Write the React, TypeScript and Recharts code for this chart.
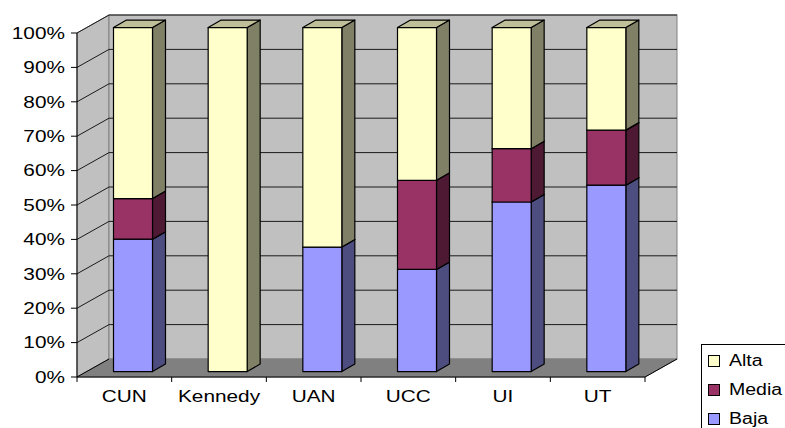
import React from "react";
import { BarChart, Bar, XAxis, YAxis, ReferenceArea } from "recharts";

// universidades y porcentajes por nivel
const categories = ["CUN", "Kennedy", "UAN", "UCC", "UI", "UT"];
const baja = [38.5, 0, 36.2, 29.7, 49.3, 54.2];
const media = [11.8, 0, 0, 25.9, 15.5, 16.0];
const alta = [49.7, 100, 63.8, 44.4, 35.2, 29.8];
const yTicks = [0, 10, 20, 30, 40, 50, 60, 70, 80, 90, 100];

const data = categories.map((name, i) => ({
  name,
  Baja: baja[i],
  Media: media[i],
  Alta: alta[i],
}));

const FONT = "'Liberation Sans', Arial, sans-serif";
const STRETCH = 1.3;
// profundidad del "3D"
const WALL_DX = 32;
const WALL_DY = 18;
const BAR_DX = 8.5;
const BAR_DY = 5.4;
const DEPTH_X = 13;
const DEPTH_Y = 7.5;

const makeShape = (front: string, side: string, top: string) => (props: any) => {
  const { x, y, width, height } = props;
  if (!height || height <= 0) return <g />;
  const fx = x + BAR_DX;
  const fy = y - BAR_DY;
  const r = fx + width;
  const b = fy + height;
  return (
    <g stroke="#000" strokeWidth={1.2} strokeLinejoin="round">
      <polygon
        points={`${r},${b} ${r},${fy} ${r + DEPTH_X},${fy - DEPTH_Y} ${r + DEPTH_X},${b - DEPTH_Y}`}
        fill={side}
      />
      <polygon
        points={`${fx},${fy} ${r},${fy} ${r + DEPTH_X},${fy - DEPTH_Y} ${fx + DEPTH_X},${fy - DEPTH_Y}`}
        fill={top}
      />
      <rect x={fx} y={fy} width={width} height={height} fill={front} />
    </g>
  );
};

const Walls = (props: any) => {
  const { x, y, width: w, height: h } = props;
  const n = categories.length;
  return (
    <g>
      <polygon
        points={`${x},${y + h} ${x},${y} ${x + WALL_DX},${y - WALL_DY} ${x + WALL_DX},${y + h - WALL_DY}`}
        fill="#C0C0C0"
        stroke="#808080"
      />
      <rect x={x + WALL_DX} y={y - WALL_DY} width={w} height={h} fill="#C0C0C0" stroke="#808080" />
      <polygon
        points={`${x},${y + h} ${x + w},${y + h} ${x + w + WALL_DX},${y + h - WALL_DY} ${x + WALL_DX},${y + h - WALL_DY}`}
        fill="#808080"
        stroke="#808080"
      />
      {yTicks.slice(1).map((t) => {
        const yy = y + h * (1 - t / 100);
        return (
          <polyline
            key={t}
            points={`${x},${yy} ${x + WALL_DX},${yy - WALL_DY} ${x + w + WALL_DX},${yy - WALL_DY}`}
            fill="none"
            stroke="#1a1a1a"
            strokeWidth={1}
          />
        );
      })}
      <line x1={x} y1={y + h} x2={x + WALL_DX} y2={y + h - WALL_DY} stroke="#000" />
      <line x1={x + w} y1={y + h} x2={x + w + WALL_DX} y2={y + h - WALL_DY} stroke="#000" />
      {Array.from({ length: n + 1 }, (_, i) => (
        <line key={i} x1={x + (i * w) / n} y1={y + h} x2={x + (i * w) / n} y2={y + h + 5} stroke="#000" />
      ))}
    </g>
  );
};

const YTick = (props: any) => {
  const { x, y, payload } = props;
  return (
    <g transform={`translate(${x},${y}) scale(${STRETCH},1)`}>
      <text x={0} y={0} dy="0.36em" textAnchor="end" fontSize={16} fontFamily={FONT} fill="#000">
        {payload.value}%
      </text>
    </g>
  );
};

const XTick = (props: any) => {
  const { x, y, payload } = props;
  return (
    <g transform={`translate(${x},${y}) scale(${STRETCH},1)`}>
      <text x={0} y={17} textAnchor="middle" fontSize={16} fontFamily={FONT} fill="#000">
        {payload.value}
      </text>
    </g>
  );
};

const legendItems = [
  { name: "Alta", color: "#FFFFCC" },
  { name: "Media", color: "#993366" },
  { name: "Baja", color: "#9999FF" },
];

export default function App() {
  return (
    <div
      style={{
        position: "absolute",
        left: 0,
        top: 0,
        width: 785,
        height: 428,
        overflow: "hidden",
        background: "#fff",
      }}
    >
      <BarChart
        width={785}
        height={428}
        data={data}
        margin={{ top: 33, right: 140, bottom: 21, left: 8 }}
        barSize={39}
      >
        <ReferenceArea y1={0} y2={100} shape={<Walls />} ifOverflow="visible" />
        <XAxis
          dataKey="name"
          height={30}
          tickLine={false}
          axisLine={{ stroke: "#000" }}
          tick={<XTick />}
          interval={0}
        />
        <YAxis
          width={69}
          domain={[0, 100]}
          ticks={yTicks}
          tickSize={6}
          tickMargin={6}
          axisLine={{ stroke: "#000" }}
          tickLine={{ stroke: "#000" }}
          tick={<YTick />}
        />
        <Bar dataKey="Baja" stackId="a" isAnimationActive={false} shape={makeShape("#9999FF", "#4D4D80", "#7373BF")} />
        <Bar dataKey="Media" stackId="a" isAnimationActive={false} shape={makeShape("#993366", "#4D1933", "#73264D")} />
        <Bar dataKey="Alta" stackId="a" isAnimationActive={false} shape={makeShape("#FFFFCC", "#808066", "#BFBF99")} />
      </BarChart>
      <div
        style={{
          position: "absolute",
          left: 701,
          top: 344,
          width: 120,
          height: 120,
          border: "1px solid #000",
          background: "#fff",
          fontFamily: FONT,
          fontSize: 16,
        }}
      >
        {legendItems.map((it, i) => (
          <div
            key={it.name}
            style={{ position: "absolute", left: 6, top: 7 + i * 29, height: 18, display: "flex", alignItems: "center" }}
          >
            <div style={{ width: 10, height: 10, background: it.color, border: "1px solid #000" }} />
            <span
              style={{
                marginLeft: 9,
                display: "inline-block",
                transform: "scale(1.22,1)",
                transformOrigin: "left center",
              }}
            >
              {it.name}
            </span>
          </div>
        ))}
      </div>
    </div>
  );
}
